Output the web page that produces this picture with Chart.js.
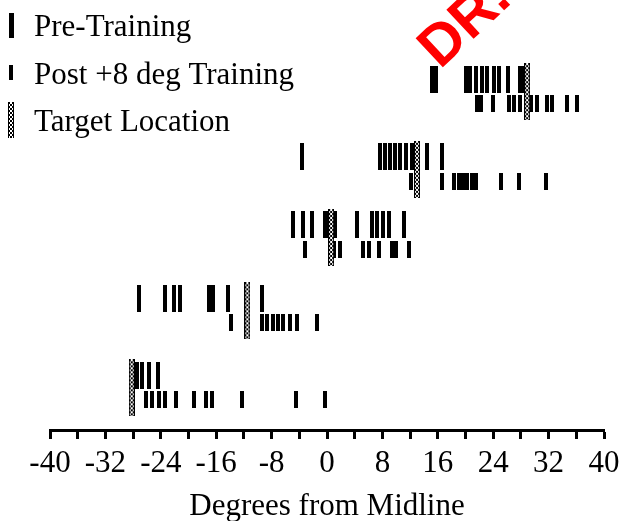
<!DOCTYPE html>
<html>
<head>
<meta charset="utf-8">
<script src="https://cdn.jsdelivr.net/npm/chart.js@4.4.1/dist/chart.umd.min.js"></script>
<style>
  body { margin: 0; background: #fff; }
</style>
</head>
<body>
<canvas id="myChart" width="629" height="521"></canvas>
<script>
// target location for each row (degrees), top row first
const targetLocation = [28.9, 13.0, 0.6, -11.5, -28.2];
// vertical position of each row (in row units, top = 0)
const rowPos = [0, 1.05, 1.97, 2.96, 4];

// Pre-Training responses per row
const preRow1 = [15.2, 15.8, 20.1, 20.7, 21.5, 22.4, 23.1, 24.1, 24.9, 26.2, 27.8, 28.5];
const preRow2 = [-3.6, 7.7, 8.4, 9.1, 9.8, 10.5, 11.4, 12.3, 14.5, 16.6];
const preRow3 = [-4.9, -3.5, -2.2, -0.3, 0.3, 1.2, 4.3, 6.5, 7.2, 8.1, 9.0, 11.1];
const preRow4 = [-27.1, -23.4, -22.1, -21.2, -17.1, -16.4, -14.3, -9.4];
const preRow5 = [-27.5, -26.7, -25.7, -24.4];

// Post +8 deg Training responses per row
const postRow1 = [21.7, 22.3, 24.0, 26.3, 27.0, 27.9, 29.5, 30.3, 31.8, 32.5, 34.7, 36.1];
const postRow2 = [12.1, 16.6, 18.4, 19.1, 19.7, 20.2, 21.0, 21.5, 25.1, 27.7, 31.6];
const postRow3 = [-3.2, 1.0, 1.9, 5.2, 6.1, 7.5, 9.4, 10.0, 11.8];
const postRow4 = [-13.8, -9.4, -8.6, -7.8, -7.1, -6.4, -5.4, -4.4, -1.5];
const postRow5 = [-26.2, -25.3, -24.3, -23.4, -21.8, -19.2, -17.5, -16.6, -12.3, -4.5, -0.3];

const preTraining = [preRow1, preRow2, preRow3, preRow4, preRow5];
const postTraining = [postRow1, postRow2, postRow3, postRow4, postRow5];

const tickLabels = [-40, -32, -24, -16, -8, 0, 8, 16, 24, 32, 40];
const legendLabels = ['Pre-Training', 'Post +8 deg Training', 'Target Location'];

// little canvases used as point styles
function makeBar(w, h) {
    const c = document.createElement('canvas');
    c.width = w; c.height = h;
    const g = c.getContext('2d');
    g.fillStyle = '#000';
    g.fillRect(0, 0, w, h);
    return c;
}

function makeStipple(w, h) {
    const c = document.createElement('canvas');
    c.width = w; c.height = h;
    const g = c.getContext('2d');
    g.fillStyle = '#fff';
    g.fillRect(0, 0, w, h);
    g.fillStyle = '#000';
    for (let y = 0; y < h; y += 2) {
        for (let x = 0; x < w; x += 2) {
            if (((x + y) / 2) % 2 === 0) g.fillRect(x, y, 2, 2);
        }
    }
    g.fillRect(0, 0, 1, h);
    g.fillRect(w - 1, 0, 1, h);
    return c;
}

const preMark = makeBar(4, 27);
const postMark = makeBar(4, 17);
const targetMark = makeStipple(6, 57);
const legendMarks = [makeBar(5, 25), makeBar(4, 15), makeStipple(6, 36)];

const preOffset = -0.17;
const postOffset = 0.16;

function rowsToPoints(rows, offset) {
    const pts = [];
    rows.forEach((row, k) => {
        row.forEach(x => pts.push({ x: x, y: rowPos[k] + offset }));
    });
    return pts;
}

// legend and red stamp drawn by hand
const sideLegend = {
    id: 'sideLegend',
    afterDraw(chart) {
        const ctx = chart.ctx;
        ctx.save();
        ctx.font = '31px "Liberation Serif"';
        ctx.fillStyle = '#000';
        ctx.textBaseline = 'alphabetic';
        legendLabels.forEach((text, i) => {
            const cy = 25 + i * 47.5;
            const img = legendMarks[i];
            ctx.drawImage(img, 11 - img.width / 2, cy - img.height / 2);
            ctx.fillText(text, 34, cy + 11);
        });
        ctx.restore();

        ctx.save();
        ctx.translate(440, 70);
        ctx.rotate(-0.75);
        ctx.font = 'bold 58px "Liberation Sans"';
        ctx.fillStyle = '#ff0000';
        ctx.fillText('DR.', 0, 0);
        ctx.restore();
    }
};

const ctx = document.getElementById('myChart').getContext('2d');
const myChart = new Chart(ctx, {
    type: 'scatter',
    data: {
        datasets: [
            {
                label: 'Target Location',
                data: targetLocation.map((x, k) => ({ x: x, y: rowPos[k] })),
                pointStyle: targetMark
            },
            {
                label: 'Pre-Training',
                data: rowsToPoints(preTraining, preOffset),
                pointStyle: preMark
            },
            {
                label: 'Post +8 deg Training',
                data: rowsToPoints(postTraining, postOffset),
                pointStyle: postMark
            }
        ]
    },
    options: {
        responsive: false,
        animation: false,
        devicePixelRatio: 1,
        clip: false,
        layout: {
            padding: { left: 50, right: 24, top: 0, bottom: -1 }
        },
        plugins: {
            legend: { display: false },
            tooltip: { enabled: false }
        },
        events: [],
        scales: {
            x: {
                type: 'linear',
                min: -40,
                max: 40,
                border: { display: true, width: 3, color: '#000' },
                grid: {
                    drawOnChartArea: false,
                    drawTicks: true,
                    tickLength: 9,
                    tickWidth: 3,
                    tickColor: '#000'
                },
                ticks: {
                    stepSize: 4,
                    autoSkip: false,
                    maxRotation: 0,
                    padding: 9.5,
                    color: '#000',
                    font: { family: '"Liberation Serif"', size: 31, lineHeight: 1 },
                    callback: value => tickLabels.includes(value) ? String(value) : ''
                },
                title: {
                    display: true,
                    text: 'Degrees from Midline',
                    color: '#000',
                    padding: { top: 2, bottom: 0 },
                    font: { family: '"Liberation Serif"', size: 31, lineHeight: 1 }
                }
            },
            y: {
                display: false,
                reverse: true,
                min: -1.17,
                max: 4.57
            }
        }
    },
    plugins: [sideLegend]
});
</script>
</body>
</html>
